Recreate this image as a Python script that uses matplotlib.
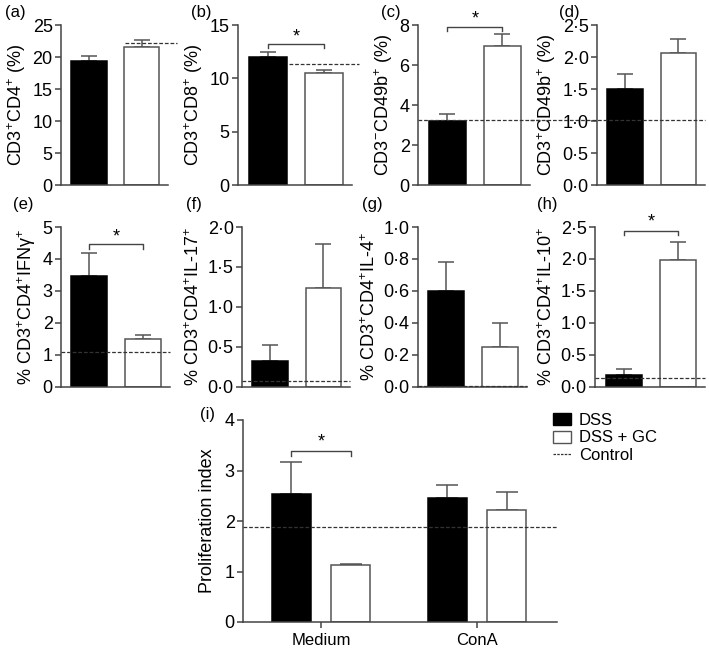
import matplotlib
matplotlib.use("Agg")
import matplotlib.pyplot as plt
from matplotlib.patches import Patch
from matplotlib.lines import Line2D

plt.rcParams["font.family"] = ["Liberation Sans", "DejaVu Sans"]
plt.rcParams["mathtext.fontset"] = "custom"
plt.rcParams["mathtext.rm"] = "Liberation Sans"
plt.rcParams["mathtext.default"] = "regular"
plt.rcParams["font.size"] = 12

groups = ["DSS", "DSS + GC"]

# panel data: means, upper SEM, control level
a_mean, a_err, a_ctrl = [19.3, 21.6], [0.9, 1.1], 22.2
b_mean, b_err, b_ctrl = [12.0, 10.5], [0.5, 0.25], 11.3
c_mean, c_err, c_ctrl = [3.2, 6.95], [0.35, 0.6], 3.25
d_mean, d_err, d_ctrl = [1.5, 2.06], [0.24, 0.22], 1.02
e_mean, e_err, e_ctrl = [3.45, 1.5], [0.72, 0.12], 1.08
f_mean, f_err, f_ctrl = [0.32, 1.24], [0.2, 0.55], 0.07
g_mean, g_err, g_ctrl = [0.60, 0.245], [0.18, 0.155], 0.005
h_mean, h_err, h_ctrl = [0.18, 1.98], [0.09, 0.28], 0.13

i_cats = ["Medium", "ConA"]
i_dss = [2.53, 2.45]
i_dss_err = [0.64, 0.27]
i_gc = [1.12, 2.22]
i_gc_err = [0.02, 0.35]
i_ctrl = 1.88

ticks_a = [0, 5, 10, 15, 20, 25]
ticks_b = [0, 5, 10, 15]
ticks_c = [0, 2, 4, 6, 8]
ticks_d = [0.0, 0.5, 1.0, 1.5, 2.0, 2.5]
ticks_e = [0, 1, 2, 3, 4, 5]
ticks_f = [0.0, 0.5, 1.0, 1.5, 2.0]
ticks_g = [0.0, 0.2, 0.4, 0.6, 0.8, 1.0]
ticks_h = [0.0, 0.5, 1.0, 1.5, 2.0, 2.5]
ticks_i = [0, 1, 2, 3, 4]

W, H = 709, 651
fig = plt.figure(figsize=(W / 100, H / 100), dpi=100)

SPINE = "#444444"
TICK_FS = 13
LABEL_FS = 13


def px_axes(left, top, right, bottom):
    return fig.add_axes([left / W, 1 - bottom / H, (right - left) / W, (bottom - top) / H])


def style(ax, ticks, decimal):
    for s in ["top", "right"]:
        ax.spines[s].set_visible(False)
    for s in ["left", "bottom"]:
        ax.spines[s].set_color(SPINE)
        ax.spines[s].set_linewidth(1.1)
    ax.set_ylim(ticks[0], ticks[-1])
    ax.set_yticks(ticks)
    if decimal:
        ax.set_yticklabels([f"{t:.1f}".replace(".", "·") for t in ticks])
    else:
        ax.set_yticklabels([str(t) for t in ticks])
    ax.tick_params(axis="y", direction="out", length=4, width=1.1, color=SPINE,
                   labelsize=TICK_FS, pad=2)


def bracket(ax, x0, x1, y, drop, star_y):
    ax.plot([x0, x0, x1, x1], [y - drop, y, y, y - drop], color=SPINE, lw=1.0, clip_on=False)
    ax.text((x0 + x1) / 2, star_y, "*", ha="center", va="center", fontsize=13)


def small_panel(pos, mean, err, ctrl, ticks, decimal, ylabel, dash_span, sig=None):
    ax = px_axes(*pos)
    x = [0, 1]
    ax.bar(x, mean, width=0.67, color=["black", "white"], edgecolor=["black", "#555555"],
           linewidth=1.1, zorder=2)
    ax.errorbar(x, mean, yerr=[[0, 0], err], fmt="none", ecolor="#555555", elinewidth=1.1,
                capsize=6, capthick=1.1, zorder=1)
    ax.plot(dash_span, [ctrl, ctrl], transform=ax.get_yaxis_transform(), ls=(0, (3, 1.5)),
            color="#333333", lw=0.9, clip_on=False, zorder=3)
    ax.set_xlim(-0.53, 1.5)
    ax.set_xticks([])
    style(ax, ticks, decimal)
    ax.set_ylabel(ylabel, fontsize=LABEL_FS, labelpad=3)
    if sig is not None:
        bracket(ax, 0, 1, *sig)
    return ax


small_panel((61, 25, 168, 185), a_mean, a_err, a_ctrl, ticks_a, False,
            r"CD3$^{+}$CD4$^{+}$ (%)", [0.6, 1.08])
small_panel((238, 25, 352, 185), b_mean, b_err, b_ctrl, ticks_b, False,
            r"CD3$^{+}$CD8$^{+}$ (%)", [0.45, 1.06], sig=(13.26, 0.38, 13.9))
small_panel((418, 25, 530, 185), c_mean, c_err, c_ctrl, ticks_c, False,
            r"CD3$^{-}$CD49b$^{+}$ (%)", [0.0, 1.1], sig=(7.9, 0.2, 8.3))
small_panel((597, 25, 705, 185), d_mean, d_err, d_ctrl, ticks_d, True,
            r"CD3$^{+}$CD49b$^{+}$ (%)", [-0.62, 1.0])
small_panel((61, 227, 170, 386.5), e_mean, e_err, e_ctrl, ticks_e, False,
            r"% CD3$^{+}$CD4$^{+}$IFNγ$^{+}$", [0.0, 1.0], sig=(4.46, 0.16, 4.68))
small_panel((242, 227, 350, 386.5), f_mean, f_err, f_ctrl, ticks_f, True,
            r"% CD3$^{+}$CD4$^{+}$IL-17$^{+}$", [0.0, 1.0])
small_panel((418, 227, 527, 386.5), g_mean, g_err, g_ctrl, ticks_g, True,
            r"% CD3$^{+}$CD4$^{+}$IL-4$^{+}$", [0.0, 1.0])
small_panel((595, 227, 705, 386.5), h_mean, h_err, h_ctrl, ticks_h, True,
            r"% CD3$^{+}$CD4$^{+}$IL-10$^{+}$", [0.0, 1.0], sig=(2.44, 0.07, 2.58))

# panel (i)
ax = px_axes(243, 420, 557, 622)
xi = [0, 1]
off, bw = 0.19, 0.25
xd = [v - off for v in xi]
xg = [v + off for v in xi]
ax.bar(xd, i_dss, width=bw, color="black", edgecolor="black", linewidth=1.1, zorder=2)
ax.bar(xg, i_gc, width=bw, color="white", edgecolor="#555555", linewidth=1.1, zorder=2)
ax.errorbar(xd, i_dss, yerr=[[0, 0], i_dss_err], fmt="none", ecolor="#555555",
            elinewidth=1.1, capsize=8, capthick=1.1, zorder=1)
ax.errorbar(xg, i_gc, yerr=[[0, 0], i_gc_err], fmt="none", ecolor="#555555",
            elinewidth=1.1, capsize=8, capthick=1.1, zorder=1)
ax.axhline(i_ctrl, ls=(0, (3, 1.5)), color="#333333", lw=0.9, zorder=3)
ax.set_xlim(-0.5, 1.513)
ax.set_xticks(xi)
ax.set_xticklabels(i_cats, fontsize=12)
ax.tick_params(axis="x", direction="out", length=4, width=1.1, color=SPINE, pad=4)
style(ax, ticks_i, False)
ax.set_ylabel("Proliferation index", fontsize=LABEL_FS, labelpad=6)
bracket(ax, xd[0], xg[0], 3.39, 0.1, 3.57)

# panel letters
letters = [("(a)", 5, 12), ("(b)", 191, 12), ("(c)", 381, 12), ("(d)", 559, 12),
           ("(e)", 13, 205), ("(f)", 186, 205), ("(g)", 362, 205), ("(h)", 537, 205),
           ("(i)", 200, 415)]
for s, x, y in letters:
    fig.text(x / W, 1 - y / H, s, ha="left", va="center", fontsize=12)

handles = [Patch(facecolor="black", edgecolor="black"),
           Patch(facecolor="white", edgecolor="#555555"),
           Line2D([], [], color="#333333", ls=(0, (2, 1)), lw=0.9)]
fig.legend(handles, groups + ["Control"], loc="upper left", bbox_to_anchor=(553 / W, 1 - 413 / H),
           frameon=False, fontsize=12, borderpad=0, borderaxespad=0, handlelength=1.1,
           handleheight=0.75, handletextpad=0.45, labelspacing=0.15)

fig.savefig("out.png", dpi=100)
